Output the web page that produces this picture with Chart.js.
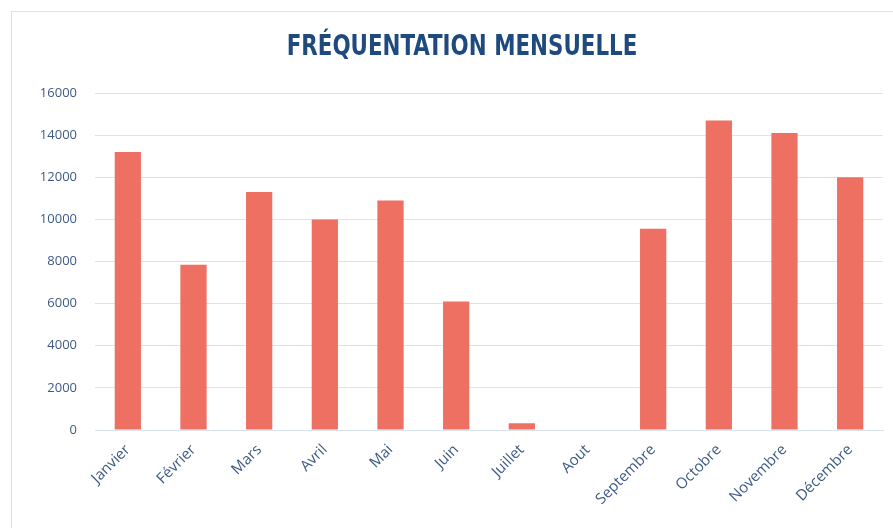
<!DOCTYPE html>
<html>
<head>
<meta charset="utf-8">
<script src="https://cdn.jsdelivr.net/npm/chart.js@4"></script>
<style>
  html, body { margin: 0; padding: 0; background: #fff; }
  #frame { position: absolute; left: 11px; top: 11px; width: 900px; height: 540px; border: 1px solid #d6e1ee; box-sizing: border-box; }
  #wrap { position: absolute; left: 0; top: 0; width: 893px; height: 528px; }
</style>
</head>
<body>
<div id="frame"></div>
<div id="wrap"><canvas id="freqChart"></canvas></div>
<script>
const chartTitle = "FRÉQUENTATION MENSUELLE";
const months = ["Janvier", "Février", "Mars", "Avril", "Mai", "Juin", "Juillet", "Aout", "Septembre", "Octobre", "Novembre", "Décembre"];
const visits = [13200, 7850, 11300, 10000, 10900, 6100, 320, 0, 9550, 14700, 14100, 12000];
const yTicks = [0, 2000, 4000, 6000, 8000, 10000, 12000, 14000, 16000];

const tickColor = "#3d5a85";
const gridColor = "#d9e4f1";

// narrow bold title (condensed look like the original)
const narrowTitle = {
  id: "narrowTitle",
  afterDraw(chart) {
    const c = chart.ctx;
    c.save();
    c.translate(462, 48);
    c.scale(0.85, 1);
    c.font = "bold 28px 'DejaVu Sans Condensed', sans-serif";
    c.fillStyle = "#1f4a7d";
    c.textAlign = "center";
    c.textBaseline = "middle";
    c.fillText(chartTitle, 0, 0);
    c.restore();
  }
};

const ctx = document.getElementById("freqChart").getContext("2d");
new Chart(ctx, {
  type: "bar",
  data: {
    labels: months,
    datasets: [{
      label: "Fréquentation",
      data: visits,
      backgroundColor: "#ee7062",
      barPercentage: 0.4,
      categoryPercentage: 1
    }]
  },
  options: {
    responsive: true,
    maintainAspectRatio: false,
    animation: false,
    layout: { padding: { left: 0, right: 10, top: 93, bottom: 0 } },
    plugins: {
      legend: { display: false },
      tooltip: { enabled: false },
      title: { display: false }
    },
    scales: {
      x: {
        grid: { display: false, drawTicks: false },
        border: { display: true, color: gridColor, width: 1 },
        ticks: {
          color: tickColor,
          font: { family: "'Open Sans', sans-serif", size: 15 },
          minRotation: 45,
          maxRotation: 45,
          padding: 11
        },
        afterFit: s => { s.height = 98; }
      },
      y: {
        min: 0,
        max: 16000,
        afterBuildTicks: s => { s.ticks = yTicks.map(v => ({ value: v })); },
        grid: { color: gridColor, drawTicks: false },
        border: { display: false },
        ticks: {
          color: tickColor,
          font: { family: "'Open Sans', sans-serif", size: 13 },
          padding: 18,
          callback: v => String(v)
        },
        afterFit: s => { s.width = 95; }
      }
    }
  },
  plugins: [narrowTitle]
});
</script>
</body>
</html>
